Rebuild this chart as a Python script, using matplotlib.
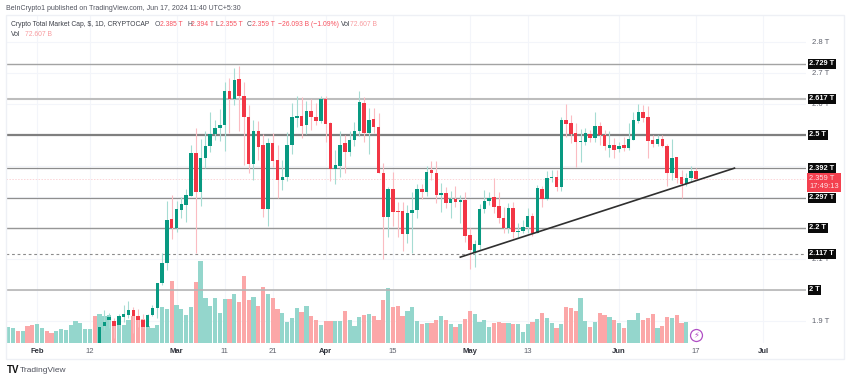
import pandas as pd
import matplotlib
matplotlib.use("Agg")
import matplotlib.pyplot as plt
from matplotlib.patches import Rectangle
from matplotlib.transforms import blended_transform_factory

plt.rcParams['font.family'] = ['Liberation Sans', 'DejaVu Sans']

# candle values in trillions, one per day from Feb 14 to Jun 17
opens = [1.829,1.884,1.903,1.901,1.887,1.914,1.919,1.935,1.916,1.903,
         1.881,1.919,1.942,2.023,2.087,2.229,2.200,2.258,2.274,2.303,
         2.442,2.316,2.426,2.465,2.503,2.523,2.532,2.642,2.616,2.681,
         2.626,2.558,2.406,2.513,2.468,2.261,2.474,2.419,2.355,2.365,
         2.468,2.555,2.561,2.532,2.577,2.558,2.545,2.616,2.539,2.390,
         2.400,2.474,2.445,2.484,2.513,2.603,2.506,2.552,2.526,2.377,
         2.235,2.326,2.255,2.255,2.181,2.248,2.258,2.326,2.316,2.387,
         2.377,2.306,2.313,2.281,2.294,2.284,2.290,2.177,2.119,2.145,
         2.261,2.287,2.300,2.271,2.232,2.200,2.265,2.187,2.190,2.203,
         2.239,2.184,2.326,2.294,2.361,2.365,2.332,2.548,2.539,2.506,
         2.477,2.477,2.503,2.490,2.529,2.500,2.458,2.468,2.455,2.468,
         2.458,2.484,2.545,2.574,2.558,2.484,2.471,2.487,2.465,2.377,
         2.429,2.365,2.342,2.361,2.385]
highs = [1.884,1.935,1.926,1.910,1.923,1.952,1.965,1.945,1.939,1.923,
         1.923,1.952,2.023,2.119,2.287,2.306,2.287,2.300,2.326,2.468,
         2.523,2.487,2.513,2.574,2.548,2.584,2.671,2.684,2.716,2.723,
         2.671,2.597,2.548,2.545,2.503,2.490,2.506,2.468,2.419,2.510,
         2.603,2.626,2.623,2.610,2.616,2.603,2.626,2.626,2.542,2.452,
         2.513,2.500,2.513,2.542,2.642,2.623,2.587,2.587,2.571,2.410,
         2.332,2.381,2.284,2.284,2.274,2.316,2.342,2.342,2.400,2.416,
         2.416,2.345,2.332,2.319,2.335,2.306,2.316,2.200,2.161,2.277,
         2.323,2.316,2.361,2.316,2.268,2.281,2.284,2.216,2.226,2.265,
         2.248,2.339,2.335,2.384,2.387,2.387,2.558,2.600,2.565,2.539,
         2.519,2.523,2.516,2.574,2.542,2.516,2.513,2.490,2.477,2.494,
         2.539,2.574,2.600,2.597,2.594,2.500,2.500,2.500,2.471,2.487,
         2.429,2.387,2.377,2.400,2.394]
lows = [1.829,1.871,1.877,1.845,1.877,1.897,1.910,1.861,1.881,1.877,
        1.877,1.916,1.910,2.016,2.065,2.165,2.187,2.232,2.219,2.303,
        2.119,2.271,2.394,2.445,2.484,2.481,2.448,2.506,2.597,2.513,
        2.403,2.377,2.355,2.419,2.235,2.206,2.397,2.297,2.323,2.352,
        2.439,2.526,2.490,2.503,2.516,2.532,2.539,2.477,2.352,2.342,
        2.365,2.377,2.432,2.465,2.497,2.477,2.439,2.506,2.377,2.100,
        2.171,2.206,2.171,2.126,2.152,2.119,2.232,2.294,2.303,2.355,
        2.281,2.252,2.265,2.232,2.268,2.216,2.155,2.068,2.074,2.129,
        2.248,2.274,2.248,2.216,2.184,2.184,2.168,2.171,2.184,2.184,
        2.174,2.184,2.268,2.290,2.348,2.319,2.319,2.494,2.474,2.397,
        2.413,2.468,2.477,2.477,2.468,2.452,2.429,2.426,2.445,2.448,
        2.452,2.484,2.539,2.542,2.426,2.461,2.465,2.461,2.335,2.355,
        2.345,2.297,2.335,2.352,2.355]
closes = [1.881,1.897,1.913,1.885,1.916,1.923,1.935,1.916,1.903,1.881,
          1.919,1.942,2.023,2.087,2.226,2.200,2.261,2.277,2.306,2.442,
          2.316,2.426,2.465,2.503,2.523,2.532,2.642,2.616,2.677,2.626,
          2.558,2.406,2.513,2.461,2.261,2.474,2.416,2.355,2.365,2.468,
          2.558,2.561,2.529,2.577,2.558,2.545,2.616,2.535,2.390,2.403,
          2.468,2.445,2.484,2.513,2.606,2.506,2.548,2.526,2.377,2.235,
          2.326,2.252,2.250,2.181,2.248,2.258,2.326,2.316,2.381,2.377,
          2.306,2.313,2.281,2.294,2.284,2.290,2.174,2.129,2.148,2.261,
          2.287,2.297,2.268,2.232,2.200,2.265,2.187,2.190,2.203,2.239,
          2.184,2.329,2.294,2.361,2.365,2.332,2.548,2.535,2.503,2.477,
          2.481,2.506,2.490,2.529,2.500,2.465,2.468,2.452,2.465,2.458,
          2.487,2.548,2.574,2.555,2.481,2.471,2.487,2.465,2.377,2.426,
          2.361,2.342,2.361,2.384,2.359]

# volume in billions, one per day from Jan 26 to Jun 15
volumes = [82,75,60,60,87,88,95,75,61,50,60,70,66,90,110,100,70,72,135,
           145,135,140,110,100,90,115,135,130,120,85,75,90,180,170,310,190,170,140,180,
           305,410,225,185,225,150,220,220,245,205,335,215,230,185,280,245,225,170,150,105,
           125,175,155,185,135,115,90,110,110,110,110,160,115,85,130,140,145,135,115,215,
           275,180,185,135,160,180,110,95,100,100,115,135,115,95,80,95,120,160,145,105,
           115,80,100,105,100,100,95,95,55,95,105,120,150,125,100,75,95,180,175,160,
           225,110,80,105,150,140,130,115,100,75,115,115,150,115,125,145,75,85,130,125,
           140,100,105]
# up/down of the bars left of the first visible candle
early_vol_up = [1,1,0,1,0,0,1,1,0,0,1,1,1,1,1,1,1,1,0]

level_values = [2.729, 2.617, 2.5, 2.392, 2.297, 2.2, 2.117, 2.0]
level_labels = ['2.729 T', '2.617 T', '2.5 T', '2.392 T', '2.297 T', '2.2 T', '2.117 T', '2 T']
level_colors = ['#a3a3a3', '#bdbdbd', '#7f7f7f', '#8c8c8c', '#8f8f8f', '#979797', '#8c8c8c', '#b5b5b5']
level_widths = [1.0, 1.5, 1.6, 0.9, 0.9, 1.0, 0.8, 1.2]
level_styles = ['-', '-', '-', '-', '-', '-', (0, (2.5, 2.5)), '-']

# the labels left empty sit behind a level box in the reference
price_ticks = [1.9, 2.0, 2.1, 2.2, 2.3, 2.4, 2.5, 2.6, 2.7, 2.8]
price_tick_labels = ['1.9 T', '', '2.1 T', '', '', '', '', '2.6 T', '2.7 T', '2.8 T']
date_ticks = ['2024-02-01', '2024-02-12', '2024-03-01', '2024-03-11', '2024-03-21', '2024-04-01',
              '2024-04-15', '2024-05-01', '2024-05-13', '2024-06-01', '2024-06-17', '2024-07-01']
date_labels = ['Feb', '12', 'Mar', '11', '21', 'Apr', '15', 'May', '13', 'Jun', '17', 'Jul']

trend_dates = ['2024-04-29', '2024-06-25']
trend_values = [2.106, 2.393]
last_price = 2.359

GREEN, RED = '#089981', '#f23645'
W, H = 850, 380

fig = plt.figure(figsize=(W / 100, H / 100), dpi=100, facecolor='white')
fig.add_artist(Rectangle((6 / W, 1 - 359 / H), 838 / W, 344 / H, transform=fig.transFigure,
                         fill=False, edgecolor='#eef0f5', linewidth=1))
vol_ax = fig.add_axes([6 / W, 1 - 343 / H, 800 / W, 328 / H])
ax = fig.add_axes([6 / W, 1 - 343 / H, 800 / W, 328 / H], sharex=vol_ax)
ax.patch.set_visible(False)

candle_dates = pd.date_range('2024-02-14', periods=len(opens))
vol_dates = pd.date_range('2024-01-26', periods=len(volumes))

ups = [c >= o for o, c in zip(opens, closes)]
vol_ups = [bool(u) for u in early_vol_up] + ups[:len(volumes) - len(early_vol_up)]
vol_ax.bar(vol_dates, volumes, width=0.88, linewidth=0,
           color=['#94d6cc' if u else '#fba7a8' for u in vol_ups])
vol_ax.set_ylim(0, 1640)
vol_ax.set_yticks([])
for s in vol_ax.spines.values():
    s.set_visible(False)

for d in date_ticks:
    vol_ax.axvline(pd.Timestamp(d), color='#f3f5fa', linewidth=0.8, zorder=0)
for p in price_ticks:
    vol_ax.axhline((p - 1.829) / (2.887 - 1.829) * 1640, color='#f3f5fa', linewidth=0.8, zorder=0)

# levels, behind the candles
for v, c, w, st in zip(level_values, level_colors, level_widths, level_styles):
    ax.axhline(v, color=c, linewidth=w, linestyle=st, zorder=1)
ax.axhline(last_price, color='#fbd5d8', linewidth=0.7, linestyle=(0, (1.5, 1.5)), zorder=1)

# candles
ax.vlines(candle_dates, lows, highs, linewidth=0.8, zorder=2,
          colors=['#a6dcd3' if u else '#fbbcc2' for u in ups])
bottoms = [min(o, c) for o, c in zip(opens, closes)]
heights = [max(abs(c - o), 0.003) for o, c in zip(opens, closes)]
ax.bar(candle_dates, heights, bottom=bottoms, width=0.72, linewidth=0, zorder=3,
       color=[GREEN if u else RED for u in ups])

ax.plot(pd.to_datetime(trend_dates), trend_values, color='#2f2f2f', linewidth=1.2, zorder=4)

# news icon on the last bar
ax.plot([pd.Timestamp('2024-06-17')], [1.855], marker='o', markersize=8.6, markerfacecolor='white',
        markeredgecolor='#b04fc4', markeredgewidth=0.9, zorder=5)
ax.text(pd.Timestamp('2024-06-17'), 1.855, '\u26a1', color='#b04fc4', fontsize=6, ha='center',
        va='center', family='DejaVu Sans', zorder=6)

ax.set_xlim(pd.Timestamp('2024-01-25 13:00'), pd.Timestamp('2024-07-09 21:00'))
ax.set_ylim(1.829, 2.887)
ax.yaxis.tick_right()
ax.set_yticks(price_ticks)
ax.set_yticklabels(price_tick_labels, fontsize=5.5, color='#5d606b')
ax.tick_params(axis='y', length=0, pad=4)
ax.tick_params(axis='x', length=0, pad=3.5)
ax.set_xticks(pd.to_datetime(date_ticks))
ax.set_xticklabels(date_labels, fontsize=5.5)
for lab in ax.get_xticklabels():
    month = lab.get_text().isalpha()
    lab.set_color('#2f323b' if month else '#5d606b')
    lab.set_fontweight('bold' if month else 'normal')
plt.setp(vol_ax.get_xticklabels(), visible=False)
vol_ax.tick_params(axis='x', length=0)
for s in ax.spines.values():
    s.set_visible(False)

# price scale boxes
tr = blended_transform_factory(ax.transAxes, ax.transData)
for v, lab in zip(level_values, level_labels):
    ax.text(1.0042, v, lab, transform=tr, color='white', fontsize=5.3, fontweight='bold',
            ha='left', va='center', zorder=10, clip_on=False,
            bbox=dict(boxstyle='square,pad=0.2', facecolor='#0a0a0a', edgecolor='none'))
ax.text(1.0042, 2.347, '2.359 T\n17:49:13', transform=tr, color='#fde3e5', fontsize=5.4,
        ha='left', va='center', zorder=10, clip_on=False, linespacing=1.2,
        bbox=dict(boxstyle='square,pad=0.32', facecolor='#f4404f', edgecolor='none'))


def put(x, y, s, **kw):
    kw.setdefault('fontsize', 4.9)
    kw.setdefault('color', '#50535e')
    fig.text(x / W, 1 - y / H, s, ha='left', va='center', **kw)


put(6.5, 9, 'BeInCrypto1 published on TradingView.com, Jun 17, 2024 11:40 UTC+5:30', fontsize=5)
put(11, 25, 'Crypto Total Market Cap, $, 1D, CRYPTOCAP', color='#3b3e47')
legend_red = '#f7525f'
put(155, 25, 'O')
put(159.5, 25, '2.385 T', color=legend_red)
put(187, 25, 'H')
put(191, 25, '2.394 T', color=legend_red)
put(216, 25, 'L')
put(220, 25, '2.355 T', color=legend_red)
put(247, 25, 'C')
put(251.5, 25, '2.359 T', color=legend_red)
put(278, 25, '\u221226.093 B (\u22121.09%)', color=legend_red)
put(341, 25, 'Vol', color='#3b3e47')
put(350, 25, '72.607 B', color='#f89b9f')
put(11, 35, 'Vol', color='#3b3e47')
put(25, 35, '72.607 B', color='#f89b9f')

put(6.5, 370, 'TV', fontsize=7, fontweight='bold', color='#111111')
put(20, 370, 'TradingView', fontsize=6, color='#50535e')

fig.savefig('out.png', dpi=100)
